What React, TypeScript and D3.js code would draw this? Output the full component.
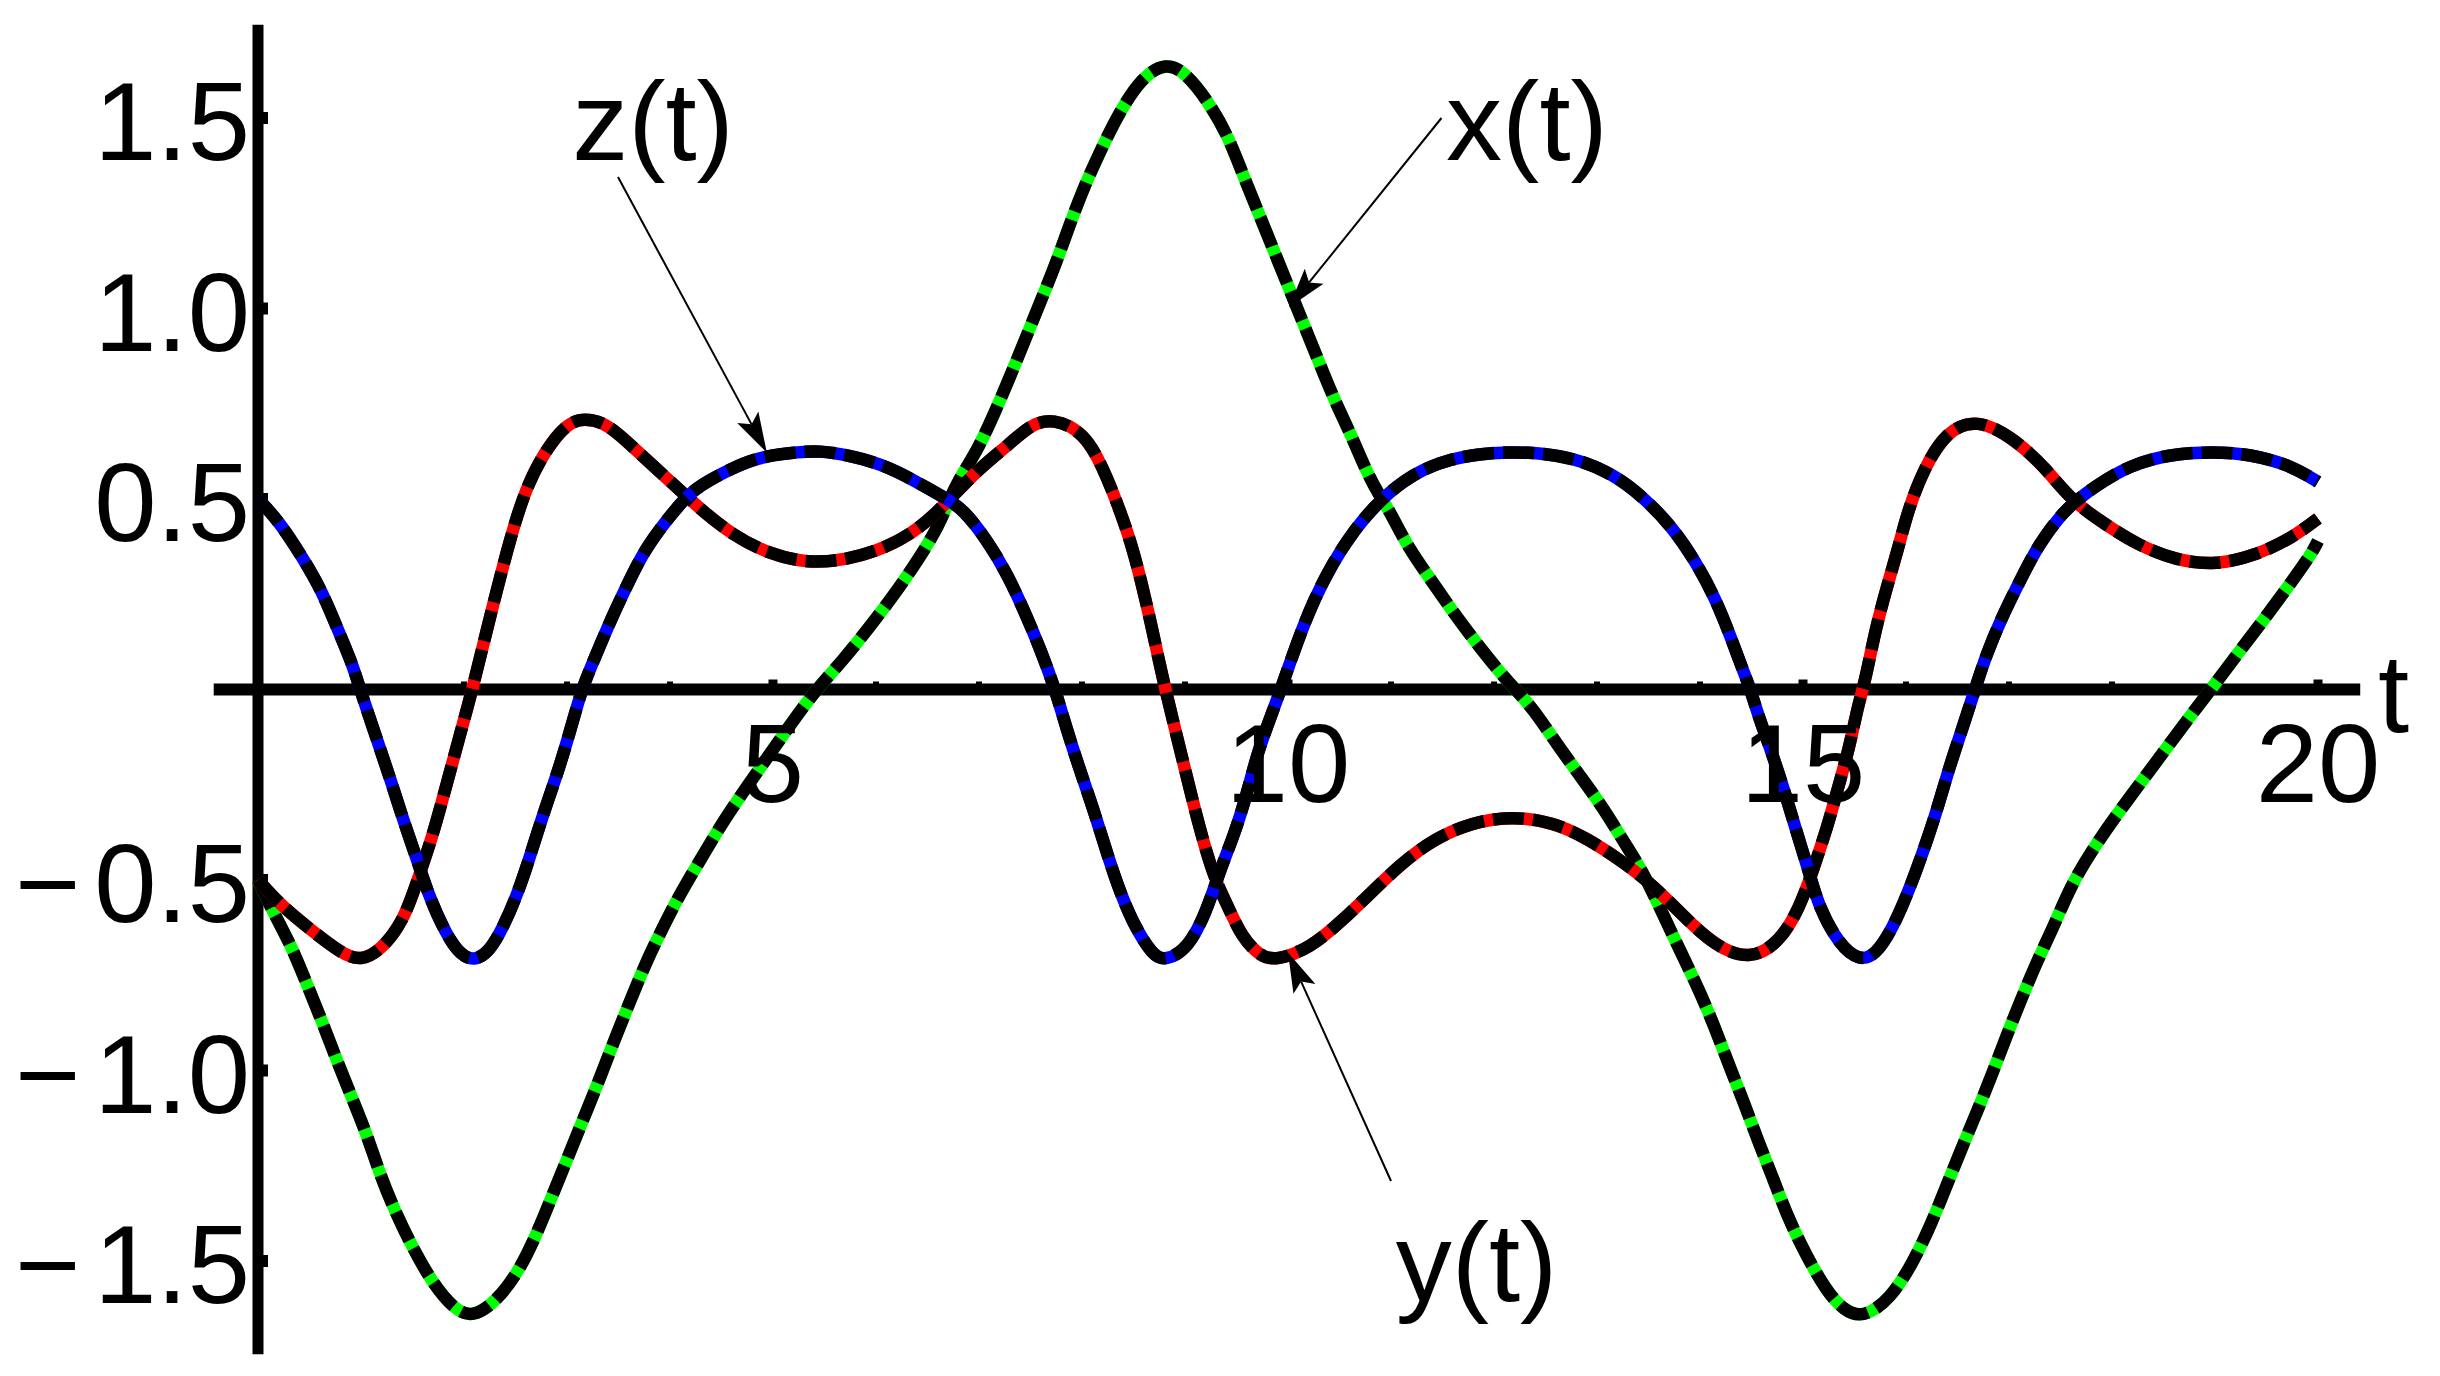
import React from "react";
import * as d3 from "d3";

// ---- data (t, value) ----
const X_SERIES: [number, number][] = [
  [0.0, -0.5], [0.12, -0.57], [0.32, -0.67], [0.47, -0.77], [0.62, -0.87], [0.76, -0.97], [0.91, -1.07],
  [1.06, -1.17], [1.18, -1.27], [1.33, -1.37], [1.51, -1.47], [1.7, -1.56], [1.9, -1.625], [2.08, -1.65],
  [2.32, -1.605], [2.55, -1.52], [2.72, -1.42], [2.87, -1.32], [3.02, -1.22], [3.17, -1.12], [3.32, -1.02],
  [3.46, -0.92], [3.61, -0.82], [3.76, -0.72], [3.93, -0.625], [4.09, -0.54], [4.31, -0.44], [4.53, -0.34],
  [4.76, -0.25], [4.98, -0.165], [5.2, -0.08], [5.42, 0.0], [5.69, 0.08], [5.94, 0.165], [6.18, 0.25],
  [6.41, 0.34], [6.61, 0.43], [6.71, 0.497], [6.8, 0.55], [6.98, 0.625], [7.15, 0.725], [7.3, 0.82],
  [7.45, 0.92], [7.6, 1.02], [7.75, 1.12], [7.88, 1.22], [8.02, 1.32], [8.19, 1.42], [8.36, 1.515],
  [8.59, 1.61], [8.82, 1.645], [9.0, 1.62], [9.21, 1.55], [9.41, 1.458], [9.55, 1.36], [9.7, 1.26],
  [9.85, 1.16], [10.0, 1.06], [10.15, 0.96], [10.3, 0.86], [10.45, 0.76], [10.62, 0.664], [10.77, 0.567],
  [10.89, 0.508], [10.99, 0.467], [11.16, 0.375], [11.39, 0.287], [11.61, 0.2], [11.86, 0.111],
  [12.11, 0.028], [12.21, 0.0], [12.38, -0.051], [12.6, -0.139], [12.83, -0.225], [13.06, -0.31],
  [13.26, -0.4], [13.45, -0.48], [13.64, -0.59], [13.81, -0.687], [13.99, -0.788], [14.14, -0.884],
  [14.28, -0.985], [14.43, -1.086], [14.56, -1.183], [14.71, -1.283], [14.85, -1.384], [15.03, -1.485],
  [15.23, -1.58], [15.4, -1.63], [15.58, -1.65], [15.85, -1.6], [16.07, -1.503], [16.24, -1.406],
  [16.39, -1.305], [16.54, -1.204], [16.69, -1.108], [16.84, -1.007], [16.98, -0.906], [17.13, -0.805],
  [17.28, -0.709], [17.45, -0.612], [17.6, -0.515], [17.81, -0.42], [18.05, -0.327], [18.28, -0.244],
  [18.52, -0.157], [18.75, -0.073], [18.96, 0.0], [19.22, 0.094], [19.47, 0.182], [19.71, 0.27],
  [19.94, 0.357], [20.0, 0.39],
];

const Y_SERIES: [number, number][] = [
  [0.0, -0.5], [0.22, -0.566], [0.5, -0.628], [0.82, -0.695], [1.0, -0.712], [1.19, -0.685], [1.41, -0.61],
  [1.55, -0.5], [1.7, -0.38], [1.8, -0.28], [1.9, -0.18], [2.0, -0.08], [2.08, 0.0], [2.18, 0.11],
  [2.28, 0.22], [2.38, 0.325], [2.48, 0.425], [2.6, 0.526], [2.77, 0.62], [3.0, 0.7], [3.17, 0.712],
  [3.39, 0.7], [3.69, 0.623], [3.99, 0.549], [4.15, 0.51], [4.31, 0.47], [4.61, 0.405], [4.95, 0.357],
  [5.34, 0.331], [5.71, 0.34], [6.09, 0.37], [6.43, 0.423], [6.71, 0.497], [7.0, 0.58], [7.3, 0.645],
  [7.5, 0.695], [7.72, 0.712], [8.02, 0.675], [8.2, 0.585], [8.35, 0.484], [8.48, 0.383], [8.58, 0.278],
  [8.67, 0.173], [8.75, 0.072], [8.81, 0.0], [8.9, -0.1], [9.0, -0.21], [9.1, -0.32], [9.21, -0.43],
  [9.31, -0.51], [9.41, -0.565], [9.55, -0.65], [9.73, -0.7], [9.88, -0.712], [10.22, -0.678],
  [10.52, -0.608], [10.8, -0.535], [11.09, -0.459], [11.41, -0.393], [11.78, -0.349], [12.18, -0.332],
  [12.58, -0.349], [12.9, -0.39], [13.24, -0.45], [13.55, -0.515], [13.84, -0.595], [14.14, -0.672],
  [14.48, -0.712], [14.78, -0.662], [14.97, -0.57], [15.09, -0.48], [15.24, -0.358], [15.34, -0.258],
  [15.45, -0.152], [15.53, -0.047], [15.58, 0.0], [15.63, 0.059], [15.71, 0.164], [15.81, 0.265],
  [15.92, 0.366], [16.02, 0.471], [16.17, 0.578], [16.39, 0.678], [16.69, 0.712], [17.06, 0.657],
  [17.36, 0.58], [17.61, 0.495], [17.92, 0.436], [18.25, 0.379], [18.62, 0.339], [19.01, 0.326],
  [19.4, 0.352], [19.76, 0.4], [20.0, 0.449],
];

const Z_SERIES: [number, number][] = [
  [0.0, 0.5], [0.2, 0.443], [0.42, 0.352], [0.62, 0.26], [0.77, 0.16], [0.92, 0.065], [0.99, 0.0],
  [1.16, -0.135], [1.29, -0.239], [1.41, -0.343], [1.54, -0.443], [1.66, -0.543], [1.83, -0.645],
  [1.97, -0.698], [2.1, -0.712], [2.24, -0.69], [2.38, -0.625], [2.53, -0.53], [2.65, -0.43],
  [2.77, -0.326], [2.9, -0.226], [3.02, -0.12], [3.14, 0.0], [3.27, 0.083], [3.42, 0.18], [3.59, 0.278],
  [3.76, 0.37], [3.99, 0.452], [4.14, 0.5], [4.28, 0.535], [4.63, 0.585], [4.89, 0.612], [5.27, 0.624],
  [5.45, 0.626], [5.68, 0.618], [6.06, 0.592], [6.39, 0.546], [6.71, 0.497], [6.85, 0.471],
  [7.08, 0.392], [7.28, 0.3], [7.45, 0.2], [7.6, 0.103], [7.74, 0.0], [7.85, -0.103], [7.97, -0.204],
  [8.1, -0.305], [8.22, -0.41], [8.34, -0.511], [8.49, -0.612], [8.69, -0.7], [8.81, -0.712],
  [9.03, -0.68], [9.21, -0.582], [9.33, -0.481], [9.48, -0.38], [9.6, -0.275], [9.7, -0.169],
  [9.83, -0.073], [9.93, 0.0], [10.1, 0.133], [10.25, 0.234], [10.42, 0.326], [10.64, 0.418],
  [10.89, 0.497], [11.21, 0.567], [11.58, 0.607], [11.98, 0.623], [12.38, 0.623], [12.78, 0.608],
  [13.15, 0.567], [13.45, 0.505], [13.73, 0.427], [13.96, 0.335], [14.15, 0.239], [14.3, 0.137],
  [14.43, 0.041], [14.49, 0.0], [14.56, -0.064], [14.69, -0.16], [14.82, -0.266], [14.93, -0.367],
  [15.06, -0.48], [15.15, -0.568], [15.35, -0.67], [15.55, -0.712], [15.7, -0.698], [15.87, -0.628],
  [16.04, -0.52], [16.18, -0.415], [16.3, -0.318], [16.41, -0.213], [16.54, -0.108], [16.67, 0.0],
  [16.77, 0.085], [16.93, 0.19], [17.11, 0.287], [17.29, 0.383], [17.53, 0.467], [17.66, 0.497],
  [17.83, 0.532], [18.17, 0.589], [18.57, 0.618], [18.97, 0.624], [19.34, 0.618], [19.73, 0.589],
  [20.0, 0.545],
];

const SERIES_COLORS = ["#00ff00", "#ff0000", "#0000ff"];

const Y_TICKS = [-1.5, -1.0, -0.5, 0.5, 1.0, 1.5];
const Y_TICK_LABELS = ["1.5", "1.0", "0.5", "0.5", "1.0", "1.5"];
const X_MAJOR_TICKS = [5, 10, 15, 20];
const X_MAJOR_LABELS = ["5", "10", "15", "20"];
const X_MINOR_TICKS = [1, 2, 3, 4, 6, 7, 8, 9, 11, 12, 13, 14, 16, 17, 18, 19];

// annotations: label position and arrow (start -> tip), in data units
const LABELS = ["x(t)", "y(t)", "z(t)"];
const LABEL_POS: [number, number][] = [[12.32, 1.39], [11.83, -1.605], [3.835, 1.39]];
const ARROW_FROM: [number, number][] = [[11.49, 1.5], [11.0, -1.29], [3.495, 1.345]];
const ARROW_TO: [number, number][] = [[10.01, 1.003], [10.0, -0.69], [4.94, 0.622]];

const W = 2440;
const H = 1376;
const FONT = "'Liberation Sans', Arial, Helvetica, sans-serif";
const FS = 112;

function arrowHead(x1: number, y1: number, x2: number, y2: number) {
  const len = 40, half = 12, notch = 8;
  const dx = x2 - x1, dy = y2 - y1;
  const L = Math.hypot(dx, dy);
  const ux = dx / L, uy = dy / L;
  const px = -uy, py = ux;
  const bx = x2 - ux * len, by = y2 - uy * len;
  const nx = x2 - ux * (len - notch), ny = y2 - uy * (len - notch);
  return {
    d: `M${x2},${y2}L${bx + px * half},${by + py * half}L${nx},${ny}L${bx - px * half},${by - py * half}Z`,
    nx, ny,
  };
}

export default function App() {
  const xs = d3.scaleLinear().domain([0, 20]).range([258, 2318]);
  const ys = d3.scaleLinear().domain([0, 1]).range([689.5, 308.5]);
  const line = d3
    .line<[number, number]>()
    .x((d) => xs(d[0]))
    .y((d) => ys(d[1]))
    .curve(d3.curveBasis);

  const series = [X_SERIES, Y_SERIES, Z_SERIES];
  const x0 = xs(0);
  const y0 = ys(0);

  return (
    <svg
      width={W}
      height={H}
      viewBox={`0 0 ${W} ${H}`}
      style={{ position: "absolute", left: 0, top: 0, background: "#fff" }}
    >
      <rect x={0} y={0} width={W} height={H} fill="#fff" />

      {/* axes */}
      <line x1={x0} x2={x0} y1={ys(1.745)} y2={ys(-1.745)} stroke="#000" strokeWidth={11} />
      <line x1={xs(-0.43)} x2={xs(20.41)} y1={y0} y2={y0} stroke="#000" strokeWidth={12} />

      {/* y ticks */}
      {Y_TICKS.map((v) => (
        <line key={"yt" + v} x1={x0} x2={x0 + 10} y1={ys(v)} y2={ys(v)} stroke="#000" strokeWidth={12} />
      ))}
      {/* x ticks */}
      {X_MINOR_TICKS.map((t) => (
        <line key={"xm" + t} x1={xs(t)} x2={xs(t)} y1={y0} y2={y0 - 8} stroke="#000" strokeWidth={6} />
      ))}
      {X_MAJOR_TICKS.map((t) => (
        <line key={"xM" + t} x1={xs(t)} x2={xs(t)} y1={y0} y2={y0 - 10} stroke="#000" strokeWidth={9} />
      ))}

      {/* curves: colour underneath, black dashes on top */}
      {series.map((s, i) => (
        <g key={"s" + i}>
          <path d={line(s) || ""} fill="none" stroke={SERIES_COLORS[i]} strokeWidth={12.5} strokeLinejoin="round" />
          <path
            d={line(s) || ""}
            fill="none"
            stroke="#000"
            strokeWidth={12.5}
            strokeDasharray="31 9"
            strokeLinejoin="round"
          />
        </g>
      ))}

      {/* tick labels */}
      {Y_TICKS.map((v, i) => (
        <text
          key={"yl" + v}
          x={250}
          y={ys(v) + 42}
          textAnchor="end"
          fontFamily={FONT}
          fontSize={FS}
          fill="#000"
        >
          {v < 0 ? <tspan>{"\u2212"}</tspan> : null}
          <tspan dx={v < 0 ? 14 : 0}>{Y_TICK_LABELS[i]}</tspan>
        </text>
      ))}
      {X_MAJOR_TICKS.map((t, i) => (
        <text
          key={"xl" + t}
          x={xs(t)}
          y={802}
          textAnchor="middle"
          fontFamily={FONT}
          fontSize={FS}
          fill="#000"
        >
          {X_MAJOR_LABELS[i]}
        </text>
      ))}
      <text x={2378} y={732} fontFamily={FONT} fontSize={FS} fill="#000">
        t
      </text>

      {/* annotations */}
      {LABELS.map((lab, i) => {
        const ax1 = xs(ARROW_FROM[i][0]);
        const ay1 = ys(ARROW_FROM[i][1]);
        const ax2 = xs(ARROW_TO[i][0]);
        const ay2 = ys(ARROW_TO[i][1]);
        const head = arrowHead(ax1, ay1, ax2, ay2);
        return (
          <g key={"a" + i}>
            <line x1={ax1} y1={ay1} x2={head.nx} y2={head.ny} stroke="#000" strokeWidth={2} />
            <path d={head.d} fill="#000" />
            <text
              x={xs(LABEL_POS[i][0])}
              y={ys(LABEL_POS[i][1])}
              textAnchor="middle"
              fontFamily={FONT}
              fontSize={FS}
              fill="#000"
            >
              {lab}
            </text>
          </g>
        );
      })}
    </svg>
  );
}
